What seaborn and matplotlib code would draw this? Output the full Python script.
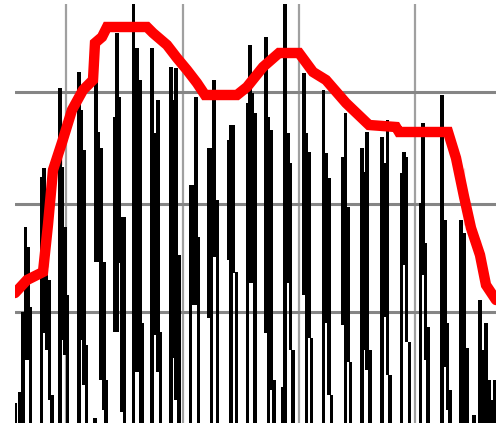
import matplotlib
matplotlib.use("Agg")
import matplotlib.pyplot as plt
import seaborn as sns
import pandas as pd

# waveform columns: x position, lower and upper value of each vertical stroke
col_x = [15.5, 19.5, 23, 25.5, 28, 30.5,
         41.5, 44, 46.5, 49.5, 52,
         60, 62.5, 65, 67.5,
         79, 81.5, 84, 86.5,
         95, 96, 98.5, 101, 104, 106,
         114.5, 117, 119.5, 122, 124.5,
         133.5, 137, 140.5, 142.5,
         152, 155, 158, 160.5,
         171, 173.5, 176, 179,
         190.5, 193.5, 196, 198.5,
         208.5, 211.5, 214, 217.5,
         228.5, 231, 233.5, 236.5,
         247.5, 250, 252.5, 255,
         266, 268.5, 271, 274,
         283, 285, 288, 290.5, 293,
         304, 306.5, 309, 311.5,
         323.5, 326.5, 329, 331.5,
         343, 345.5, 348, 350.5,
         362, 364.5, 367, 370,
         382, 385, 387.5, 390,
         401.5, 404, 406.5, 409.5,
         420.5, 423, 425.5, 428,
         442, 445, 447.5, 450,
         461, 464, 467, 474,
         480, 483, 486, 489, 492, 495]
col_lo = [0, 0, 0, 63, 63, 0,
          0, 90, 73, 23, 0,
          0, 83, 68, 0,
          0, 83, 38, 0,
          0, 161, 161, 43, 13, 0,
          91, 91, 160, 11, 0,
          0, 51, 0, 0,
          0, 88, 51, 0,
          0, 65, 23, 0,
          0, 118, 118, 0,
          105, 0, 166, 0,
          163, 0, 150, 0,
          0, 140, 140, 0,
          90, 0, 33, 0,
          0, 0, 140, 73, 0,
          128, 0, 85, 0,
          0, 100, 28, 0,
          98, 0, 61, 0,
          0, 73, 53, 0,
          0, 106, 48, 0,
          0, 158, 81, 0,
          0, 148, 63, 0,
          0, 56, 13, 0,
          0, 0, 0, 0,
          0, 0, 0, 0, 0, 0]
col_hi = [20, 31, 111, 196, 176, 116,
          246, 255, 148, 143, 28,
          335, 256, 196, 128,
          351, 313, 273, 78,
          5, 341, 291, 275, 161, 43,
          306, 390, 326, 206, 206,
          420, 375, 343, 100,
          375, 290, 323, 91,
          356, 323, 355, 168,
          238, 238, 326, 186,
          275, 275, 343, 223,
          283, 298, 298, 151,
          320, 378, 330, 310,
          386, 306, 293, 43,
          36, 420, 290, 260, 73,
          350, 290, 271, 85,
          333, 270, 245, 28,
          266, 310, 216, 61,
          275, 251, 291, 73,
          286, 260, 303, 48,
          250, 271, 266, 81,
          220, 300, 180, 96,
          328, 203, 100, 33,
          203, 190, 75, 8,
          123, 73, 100, 43, 23, 43]

# red envelope
env_x = [15, 27, 43, 48, 48, 53, 62, 62, 72, 83, 93, 95, 102, 107, 147, 153,
         167, 177, 187, 197, 205, 237, 247, 263, 279, 299, 313, 326, 346, 369,
         396, 399, 448, 456, 464, 464, 471, 480, 480, 486, 496]
env_y = [130, 143, 151, 156, 241, 253, 258, 303, 313, 333, 343, 380, 386, 396,
         396, 390, 378, 365, 353, 340, 328, 328, 336, 356, 370, 370, 351, 343,
         320, 298, 296, 291, 291, 265, 255, 198, 195, 183, 153, 138, 123]

grid_x = [66, 182.5, 299, 415]
grid_y = [111, 219, 331]

sns.set_style("white")
fig = plt.figure(figsize=(4.96, 4.29), dpi=100)
ax = fig.add_axes([15 / 496, 6 / 429, 481 / 496, 419 / 429])

for gx in grid_x:
    ax.axvline(gx, color="#a0a0a0", lw=1.6, zorder=0)
for gy in grid_y:
    ax.axhline(gy, color="#858585", lw=2.2, zorder=0)

heights = [h - l for h, l in zip(col_hi, col_lo)]
ax.bar(col_x, heights, bottom=col_lo, width=3.3, color="black", linewidth=0, zorder=2)

env = pd.DataFrame({"x": env_x, "y": env_y})
sns.lineplot(data=env, x="x", y="y", sort=False, color="#ff0000", lw=7.5,
             ax=ax, zorder=3, solid_joinstyle="miter")

ax.set_xlim(15, 496)
ax.set_ylim(0, 419)
ax.set_xticks([])
ax.set_yticks([])
ax.set_xlabel("")
ax.set_ylabel("")
for s in ax.spines.values():
    s.set_visible(False)

fig.savefig("out.png", dpi=100)
